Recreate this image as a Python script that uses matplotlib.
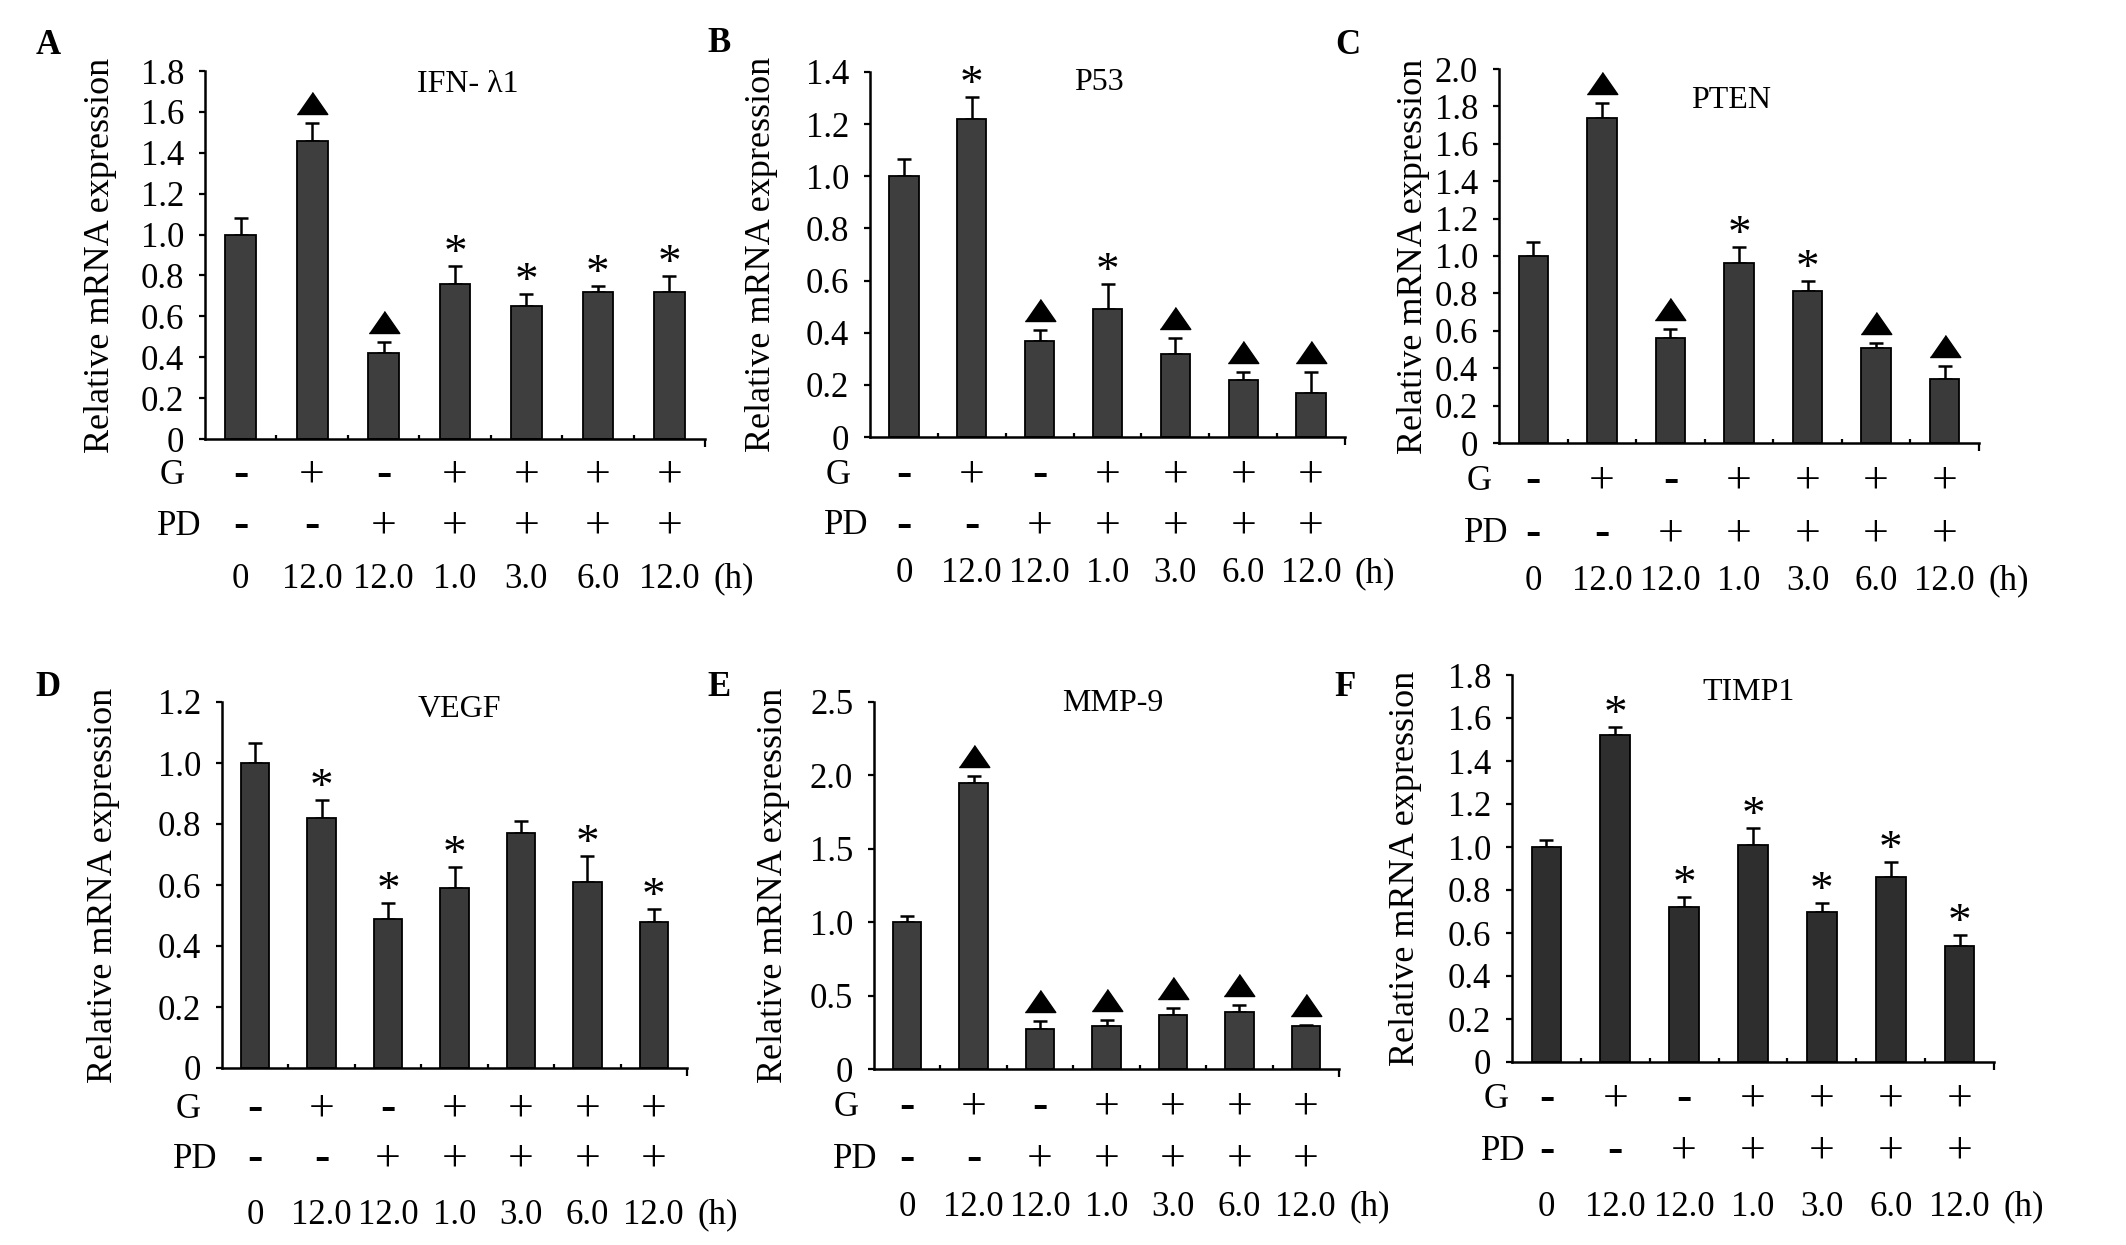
import numpy as np
import matplotlib
matplotlib.use("Agg")
import matplotlib.pyplot as plt
from matplotlib import transforms

plt.rcParams['font.family'] = ['Liberation Serif', 'DejaVu Serif']

# ---------------- data ----------------
genes = ["IFN- λ1", "P53", "PTEN", "VEGF", "MMP-9", "TIMP1"]
letters = ["A", "B", "C", "D", "E", "F"]
g_signs = ["-", "+", "-", "+", "+", "+", "+"]
pd_signs = ["-", "-", "+", "+", "+", "+", "+"]
time_labels = ["0", "12.0", "12.0", "1.0", "3.0", "6.0", "12.0"]
time_unit = "(h)"
ylabel_text = "Relative mRNA expression"

ifn_vals = [1.00, 1.46, 0.42, 0.76, 0.65, 0.72, 0.72]
ifn_err = [0.08, 0.085, 0.055, 0.085, 0.06, 0.03, 0.075]
ifn_marks = ["", "^", "^", "*", "*", "*", "*"]

p53_vals = [1.00, 1.22, 0.37, 0.49, 0.32, 0.22, 0.17]
p53_err = [0.065, 0.085, 0.04, 0.095, 0.058, 0.03, 0.08]
p53_marks = ["", "*", "^", "*", "^", "^", "^"]

pten_vals = [1.00, 1.74, 0.56, 0.96, 0.815, 0.51, 0.34]
pten_err = [0.075, 0.08, 0.05, 0.09, 0.05, 0.027, 0.074]
pten_marks = ["", "^", "^", "*", "*", "^", "^"]

vegf_vals = [1.00, 0.82, 0.49, 0.59, 0.77, 0.61, 0.48]
vegf_err = [0.066, 0.06, 0.05, 0.07, 0.04, 0.086, 0.042]
vegf_marks = ["", "*", "*", "*", "", "*", "*"]

mmp9_vals = [1.00, 1.95, 0.27, 0.29, 0.37, 0.39, 0.29]
mmp9_err = [0.04, 0.047, 0.058, 0.047, 0.047, 0.045, 0.01]
mmp9_marks = ["", "^", "^", "^", "^", "^", "^"]

timp1_vals = [1.00, 1.52, 0.72, 1.01, 0.70, 0.86, 0.54]
timp1_err = [0.032, 0.036, 0.048, 0.077, 0.039, 0.07, 0.049]
timp1_marks = ["", "*", "*", "*", "*", "*", "*"]

y_max = [1.8, 1.4, 2.0, 1.2, 2.5, 1.8]
y_step = [0.2, 0.2, 0.2, 0.2, 0.5, 0.2]

all_vals = [ifn_vals, p53_vals, pten_vals, vegf_vals, mmp9_vals, timp1_vals]
all_err = [ifn_err, p53_err, pten_err, vegf_err, mmp9_err, timp1_err]
all_marks = [ifn_marks, p53_marks, pten_marks, vegf_marks, mmp9_marks, timp1_marks]

# ---------------- layout (pixels) ----------------
W, H = 2126, 1245
layout = [
    dict(box=(205, 705, 71, 439), title=(0.526, 0.962), ylab=101, letter=(48, 46), rows=(36, 87, 140), dx=(-33, -26)),
    dict(box=(870, 1345, 72, 437), title=(0.482, 0.971), ylab=762, letter=(719, 44), rows=(38, 89, 137), dx=(-32, -24)),
    dict(box=(1499, 1979, 69, 443), title=(0.483, 0.915), ylab=1413, letter=(1348, 45), rows=(38, 91, 138), dx=(-20, -13)),
    dict(box=(222, 687, 702, 1068), title=(0.51, 0.979), ylab=103, letter=(48, 688), rows=(41, 91, 147), dx=(-34, -27)),
    dict(box=(874, 1339, 702, 1069), title=(0.514, 0.995), ylab=773, letter=(719, 688), rows=(38, 90, 138), dx=(-28, -19)),
    dict(box=(1512, 1994, 675, 1062), title=(0.49, 0.955), ylab=1406, letter=(1345, 688), rows=(37, 89, 145), dx=(-16, -9)),
]
bar_colors = ['#3e3e3e', '#3e3e3e', '#3a3a3a', '#3a3a3a', '#3e3e3e', '#2e2e2e']
tri_marker = [(-1.0, -0.72), (1.0, -0.72), (0.0, 0.72)]

fig = plt.figure(figsize=(W / 100, H / 100), dpi=100)
fig.patch.set_facecolor('white')

for k in range(6):
    lay = layout[k]
    L, R, T, B = lay['box']
    ax = fig.add_axes([L / W, 1 - B / H, (R - L) / W, (B - T) / H])
    vals = np.array(all_vals[k])
    errs = np.array(all_err[k])
    x = np.arange(len(vals))

    ax.errorbar(x, vals, yerr=[np.zeros_like(errs), errs], fmt='none', ecolor='black',
                elinewidth=1.8, capsize=5, capthick=1.8, zorder=1)
    ax.bar(x, vals, width=0.43, color=bar_colors[k], edgecolor='black', linewidth=1.3, zorder=2)

    ax.set_xlim(-0.5, len(vals) - 0.5)
    ax.set_ylim(0, y_max[k])
    ticks = np.round(np.arange(0, y_max[k] + 1e-9, y_step[k]), 2)
    ax.set_yticks(ticks)
    ax.set_yticklabels(['0' if t == 0 else f'{t:.1f}' for t in ticks])
    for s in ['top', 'right']:
        ax.spines[s].set_visible(False)
    for s in ['left', 'bottom']:
        ax.spines[s].set_linewidth(1.8)
    ax.set_xticks([len(vals) - 0.5])
    ax.set_xticklabels([''])
    ax.set_xticks(np.arange(0.5, len(vals) - 1, 1.0), minor=True)
    ax.tick_params(axis='x', which='major', direction='out', length=6, width=1.6)
    ax.tick_params(axis='x', which='minor', direction='in', length=3, width=1.6)
    ax.tick_params(axis='y', direction='out', length=4, width=1.6, pad=11, labelsize=25)

    ax.set_ylabel(ylabel_text, fontsize=26)
    ax.yaxis.set_label_coords((lay['ylab'] - L) / (R - L), 0.5)
    ax.yaxis.label.set_verticalalignment('center')

    ax.text(lay['title'][0], lay['title'][1], genes[k], transform=ax.transAxes,
            ha='center', va='center', fontsize=23)

    # significance markers
    for i, m in enumerate(all_marks[k]):
        top = vals[i] + errs[i]
        if m == '^':
            tr = transforms.offset_copy(ax.transData, fig=fig, x=0, y=20, units='dots')
            ax.plot([x[i]], [top], marker=tri_marker, ms=22, color='black', transform=tr,
                    clip_on=False, zorder=3)
        elif m == '*':
            tr = transforms.offset_copy(ax.transData, fig=fig, x=0, y=0, units='dots')
            ax.text(x[i], top, '*', transform=tr, ha='center', va='baseline',
                    fontsize=34, clip_on=False)

    # treatment rows
    blended = transforms.blended_transform_factory(ax.transData, ax.transAxes)
    gdy, pdy, tdy = lay['rows']
    for i in range(len(vals)):
        ax.text(x[i], 0, g_signs[i], ha='center', va='center', fontsize=33, clip_on=False,
                transform=transforms.offset_copy(blended, fig=fig, x=0, y=-gdy, units='dots'))
        ax.text(x[i], 0, pd_signs[i], ha='center', va='center', fontsize=33, clip_on=False,
                transform=transforms.offset_copy(blended, fig=fig, x=0, y=-pdy, units='dots'))
        ax.text(x[i], 0, time_labels[i], ha='center', va='center', fontsize=25, clip_on=False,
                transform=transforms.offset_copy(blended, fig=fig, x=0, y=-tdy, units='dots'))
    ax.text(x[-1], 0, time_unit, ha='center', va='center', fontsize=25, clip_on=False,
            transform=transforms.offset_copy(blended, fig=fig, x=64, y=-tdy, units='dots'))
    ax.text(0, 0, "G", ha='center', va='center', fontsize=25, clip_on=False,
            transform=transforms.offset_copy(ax.transAxes, fig=fig, x=lay['dx'][0], y=-gdy, units='dots'))
    ax.text(0, 0, "PD", ha='center', va='center', fontsize=25, clip_on=False,
            transform=transforms.offset_copy(ax.transAxes, fig=fig, x=lay['dx'][1], y=-pdy, units='dots'))

    fig.text(lay['letter'][0] / W, 1 - lay['letter'][1] / H, letters[k], fontsize=25,
             fontweight='bold', ha='center', va='center')

fig.savefig('out.png', dpi=100, facecolor='white')
